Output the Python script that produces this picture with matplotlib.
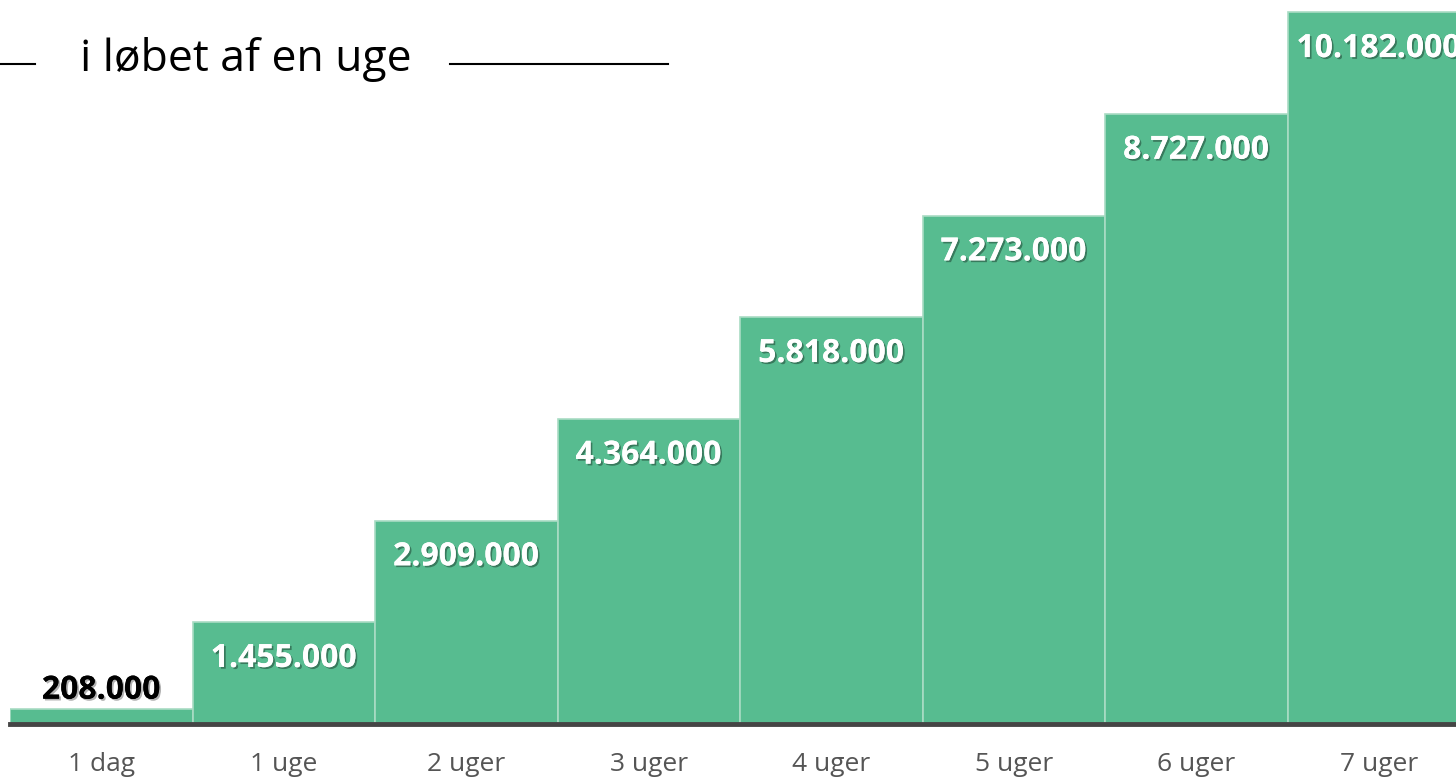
import matplotlib.pyplot as plt
import matplotlib.patheffects as pe

# data
categories = ['1 dag', '1 uge', '2 uger', '3 uger', '4 uger', '5 uger', '6 uger', '7 uger']
values = [208000, 1455000, 2909000, 4364000, 5818000, 7273000, 8727000, 10182000]
value_labels = ['208.000', '1.455.000', '2.909.000', '4.364.000', '5.818.000',
                '7.273.000', '8.727.000', '10.182.000']
title = 'i løbet af en uge'

plt.rcParams['font.family'] = ['Open Sans', 'DejaVu Sans']

W, H = 1456, 778
fig = plt.figure(figsize=(W / 100, H / 100), dpi=100)
fig.patch.set_facecolor('white')

# axes: bars start at x=10px, baseline at y=724px
ax = fig.add_axes([10 / W, (H - 724) / H, (W - 10) / W, 724 / H])
x = list(range(len(categories)))
ax.bar(x, values, width=1.0, color='#57bc90', edgecolor='#a9dcc4', linewidth=1.2, zorder=2)

ax.set_xlim(-0.5, -0.5 + (W - 10) / 182.5)
ax.set_ylim(0, 10.36e6)
for s in ['top', 'right', 'left']:
    ax.spines[s].set_visible(False)
ax.spines['bottom'].set_color('#454545')
ax.spines['bottom'].set_linewidth(3.5)
ax.spines['bottom'].set_zorder(3)
ax.set_yticks([])
ax.set_xticks(x)
ax.set_xticklabels(categories, fontsize=19, color='#555555')
ax.tick_params(axis='x', length=0, pad=20)

shadow = [pe.withSimplePatchShadow(offset=(1.3, -1.3), shadow_rgbFace='black', alpha=0.35), pe.Normal()]
for i, (v, lab) in enumerate(zip(values, value_labels)):
    if v < 1e6:
        ax.annotate(lab, (i, v), xytext=(0, 2), textcoords='offset points',
                    ha='center', va='bottom', fontsize=23, fontweight='bold', color='black',
                    path_effects=[pe.withSimplePatchShadow(offset=(1.3, -1.3), alpha=0.3), pe.Normal()])
    else:
        # the last label runs past the right edge, as in the original
        ax.annotate(lab, (i, v), xytext=(0, -26), textcoords='offset points',
                    ha='center', va='center', fontsize=23, fontweight='bold', color='white',
                    path_effects=shadow)

# title with lines
fig.text(80 / W, 1 - 60 / H, title, fontsize=32, color='black', va='center', ha='left')
fig.add_artist(plt.Line2D([0, 35 / W], [1 - 64 / H, 1 - 64 / H], color='black', lw=1.5))
fig.add_artist(plt.Line2D([450 / W, 668 / W], [1 - 64 / H, 1 - 64 / H], color='black', lw=1.5))

fig.savefig('out.png', dpi=100)
